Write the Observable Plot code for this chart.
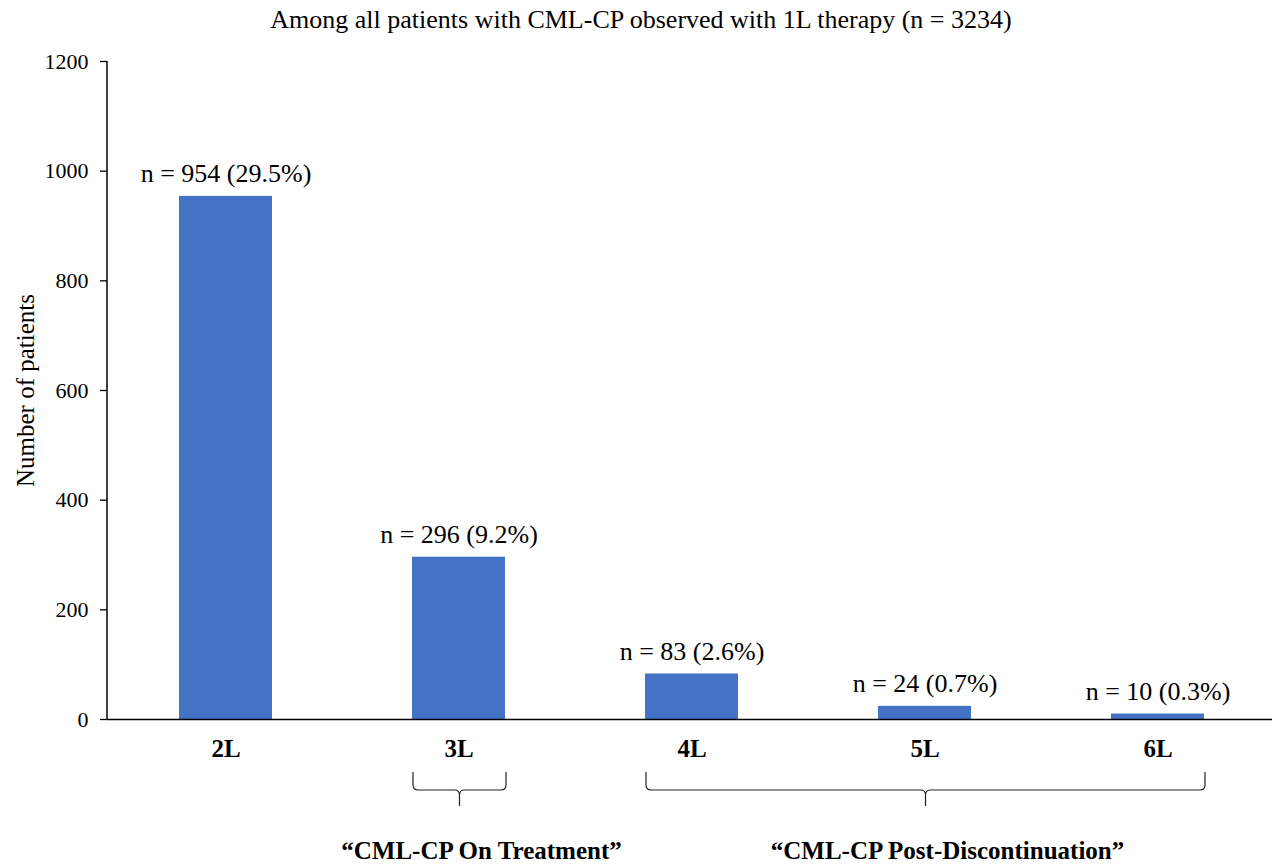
<!DOCTYPE html>
<html>
<head>
<meta charset="utf-8">
<script src="https://cdn.jsdelivr.net/npm/d3@7"></script>
<script src="https://cdn.jsdelivr.net/npm/@observablehq/plot@0.6"></script>
<style>
  html, body { margin: 0; padding: 0; background: #fff; }
  body { font-family: "Liberation Serif", "Times New Roman", serif; color: #000; width: 1274px; }
  #title { height: 40px; line-height: 40px; text-align: center; font-size: 26px; white-space: nowrap; padding-left: 8px; }
  #chart svg { display: block; overflow: visible; }
</style>
</head>
<body>
<div id="title"></div>
<div id="chart"></div>
<script>
// ---- data ----
const chartTitle = "Among all patients with CML-CP observed with 1L therapy (n = 3234)";
const lineNames = ["2L", "3L", "4L", "5L", "6L"];
const patientCounts = [954, 296, 83, 24, 10];
const barLabels = ["n = 954 (29.5%)", "n = 296 (9.2%)", "n = 83 (2.6%)", "n = 24 (0.7%)", "n = 10 (0.3%)"];
const yTicks = [0, 200, 400, 600, 800, 1000, 1200];
const yAxisLabel = "Number of patients";
const groupNames = ["\u201CCML-CP On Treatment\u201D", "\u201CCML-CP Post-Discontinuation\u201D"];
const groupFirst = ["3L", "4L"];
const groupLast = ["3L", "6L"];

(function () {
document.getElementById("title").textContent = chartTitle;

const rows = lineNames.map((name, i) => ({name, value: patientCounts[i], label: barLabels[i]}));
const groups = groupNames.map((g, i) => ({name: g, first: groupFirst[i], last: groupLast[i]}));

const FONT = "Liberation Serif, Times New Roman, serif";
const W = 1274, ML = 107, MR = 2;

const plot = Plot.plot({
  width: W,
  height: 824,
  marginTop: 21,
  marginBottom: 145,
  marginLeft: ML,
  marginRight: MR,
  style: {fontFamily: FONT, fontSize: "22px", color: "#000", background: "#fff", overflow: "visible"},
  x: {domain: lineNames, range: [ML, W - MR + 4], paddingInner: 0.6, paddingOuter: 0.3, label: null},
  y: {domain: [0, 1200], label: null},
  marks: [
    Plot.barY(rows, {x: "name", y: "value", fill: "#4472C4"}),
    Plot.text(rows, {x: "name", y: "value", text: "label", lineAnchor: "bottom", dy: -14, fontSize: 26, fill: "#000"}),
    Plot.axisY({ticks: yTicks, tickSize: 7, tickPadding: 12, tickFormat: d => String(d), fontSize: 22, label: null, stroke: "#000", strokeWidth: 1.3}),
    Plot.axisX({tickSize: 0, tickPadding: 20, fontSize: 25, fontWeight: "bold", label: null}),
    Plot.ruleY([0], {stroke: "#000", strokeWidth: 1.5}),
    Plot.text([yAxisLabel], {frameAnchor: "left", textAnchor: "middle", rotate: -90, dx: -82, fontSize: 25, fill: "#000"})
  ]
});

// Y axis line, brackets and group labels, positioned through the plot's own scales
const xs = plot.scale("x");
const ys = plot.scale("y");
const bw = xs.bandwidth;
const base = ys.apply(0);
const svg = d3.select(plot);
svg.append("line")
  .attr("x1", ML).attr("x2", ML)
  .attr("y1", ys.apply(yTicks[yTicks.length - 1])).attr("y2", base)
  .attr("stroke", "#000").attr("stroke-width", 1.5);
const g = svg.append("g").attr("fill", "none").attr("stroke", "#222").attr("stroke-width", 1.2);
const yTop = base + 53, yMid = base + 71, yTip = base + 87, r = 5;
groups.forEach(grp => {
  const x0 = xs.apply(grp.first) + 1;
  const x1 = xs.apply(grp.last) + bw + 1;
  const xm = (x0 + x1) / 2;
  const d = `M${x0},${yTop} L${x0},${yMid - r} Q${x0},${yMid} ${x0 + r},${yMid} L${xm - r},${yMid} Q${xm},${yMid} ${xm},${yMid + r} L${xm},${yTip}` +
            ` M${xm},${yMid + r} Q${xm},${yMid} ${xm + r},${yMid} L${x1 - r},${yMid} Q${x1},${yMid} ${x1},${yMid - r} L${x1},${yTop}`;
  g.append("path").attr("d", d);
  svg.append("text")
    .attr("x", xm + 22)
    .attr("y", base + 131)
    .attr("dy", "0.35em")
    .attr("text-anchor", "middle")
    .attr("font-family", FONT)
    .attr("font-size", 25)
    .attr("font-weight", "bold")
    .attr("fill", "#000")
    .text(grp.name);
});

document.getElementById("chart").appendChild(plot);
})();
</script>
</body>
</html>
